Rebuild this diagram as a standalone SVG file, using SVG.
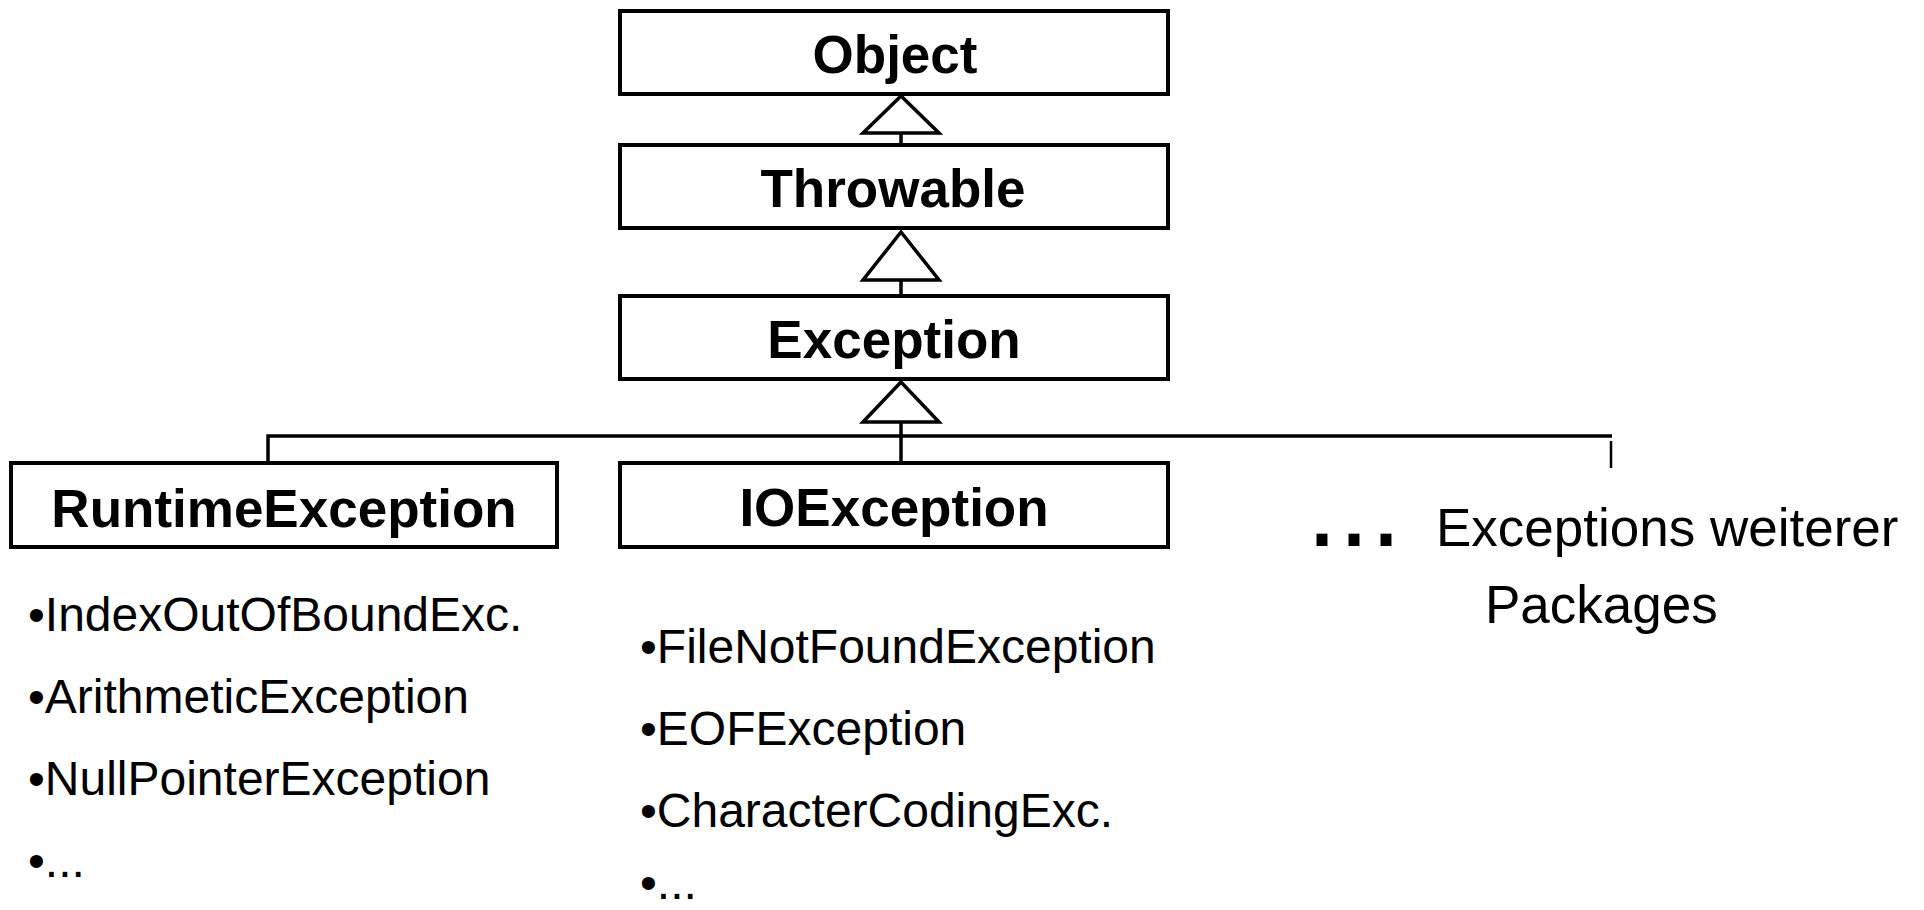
<svg xmlns="http://www.w3.org/2000/svg" width="1924" height="910" viewBox="0 0 1924 910">
  <style>
    .box { fill: #ffffff; stroke: #000000; stroke-width: 4; }
    .lbl { font-family: "Liberation Sans", Arial, sans-serif; font-weight: bold; font-size: 53px; text-anchor: middle; fill: #000000; }
    .item { font-family: "Liberation Sans", Arial, sans-serif; font-size: 48px; fill: #000000; }
    .note { font-family: "Liberation Sans", Arial, sans-serif; font-size: 53px; fill: #000000; }
    .ln { stroke: #000000; stroke-width: 3.5; fill: none; }
    .tri { fill: #ffffff; stroke: #000000; stroke-width: 3.5; stroke-linejoin: miter; }
  </style>
  <rect width="1924" height="910" fill="#ffffff"/>

  <g id="connectors">
    <line class="ln" x1="901" y1="133" x2="901" y2="145"/>
    <polygon class="tri" points="901,96 863,133 939,133"/>
    <line class="ln" x1="901" y1="280" x2="901" y2="296"/>
    <polygon class="tri" points="901,232 863,280 939,280"/>
    <line class="ln" x1="901" y1="422" x2="901" y2="463"/>
    <polygon class="tri" points="901,382 863,422 939,422"/>
    <polyline class="ln" points="268,463 268,436 1612,436"/>
    <line x1="1611" y1="441" x2="1611" y2="468" stroke="#000000" stroke-width="2.5"/>
  </g>

  <g id="node-object">
    <rect class="box" x="620" y="11" width="548" height="83"/>
    <text class="lbl" x="895" y="73">Object</text>
  </g>
  <g id="node-throwable">
    <rect class="box" x="620" y="145" width="548" height="83"/>
    <text class="lbl" x="893" y="207">Throwable</text>
  </g>
  <g id="node-exception">
    <rect class="box" x="620" y="296" width="548" height="83"/>
    <text class="lbl" x="894" y="358">Exception</text>
  </g>
  <g id="node-runtimeexception">
    <rect class="box" x="11" y="463" width="546" height="84"/>
    <text class="lbl" x="284" y="527">RuntimeException</text>
  </g>
  <g id="node-ioexception">
    <rect class="box" x="620" y="463" width="548" height="84"/>
    <text class="lbl" x="894" y="526">IOException</text>
  </g>

  <g id="runtime-list">
    <text class="item" x="28" y="631">•IndexOutOfBoundExc.</text>
    <text class="item" x="28" y="713">•ArithmeticException</text>
    <text class="item" x="28" y="795">•NullPointerException</text>
    <text class="item" x="28" y="877">•...</text>
  </g>

  <g id="io-list">
    <text class="item" x="640" y="663">•FileNotFoundException</text>
    <text class="item" x="640" y="745">•EOFException</text>
    <text class="item" x="640" y="827">•CharacterCodingExc.</text>
    <text class="item" x="640" y="899">•...</text>
  </g>

  <g id="node-other-packages">
    <text class="note" x="1306" y="546" style="font-size:115px">...</text>
    <text class="note" x="1436" y="546">Exceptions weiterer</text>
    <text class="note" x="1485" y="623">Packages</text>
  </g>
</svg>
